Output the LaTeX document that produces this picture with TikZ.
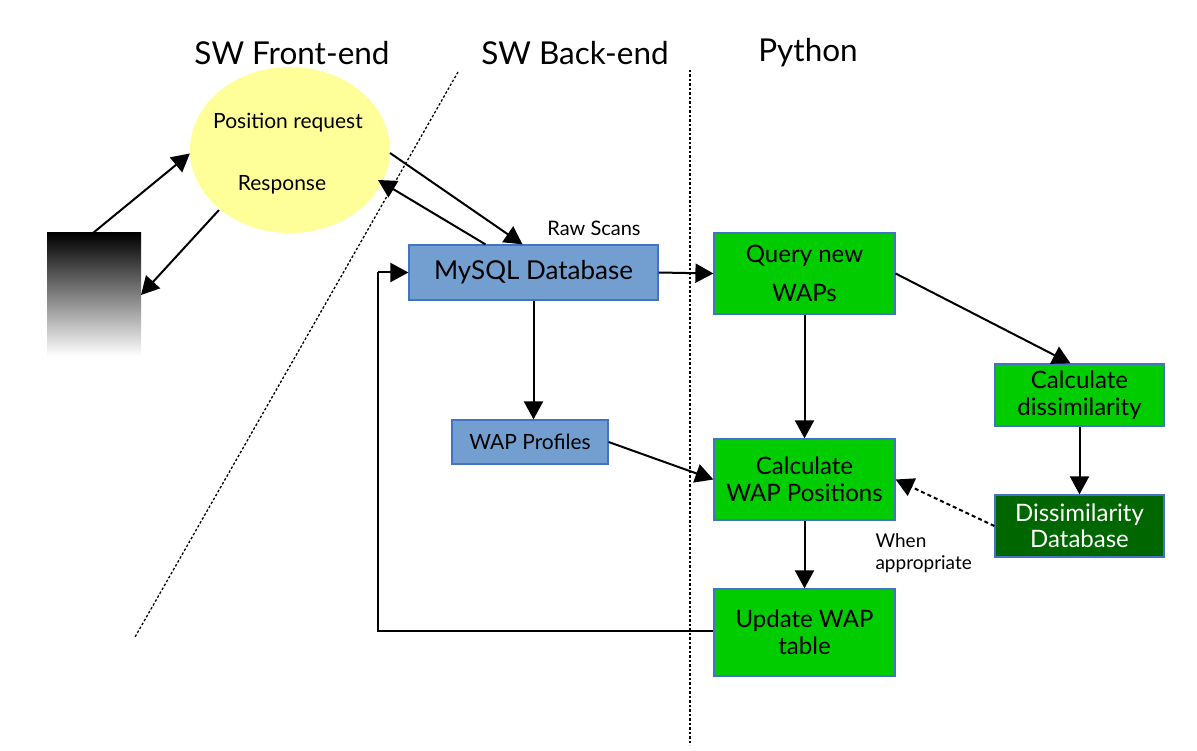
\documentclass[tikz,border=0pt]{standalone}
\usepackage{fontspec}
\setmainfont{Lato}
\usetikzlibrary{arrows.meta,shapes.geometric}
\definecolor{bluefill}{HTML}{729FCF}
\definecolor{boxedge}{HTML}{4472C4}
\definecolor{gfill}{HTML}{00CC00}
\definecolor{dgfill}{HTML}{006600}
\definecolor{ellfill}{HTML}{FFFF99}
\tikzset{
  title/.style={font=\fontsize{31.5}{36}\selectfont},
  bluebox/.style={draw=boxedge,fill=bluefill,line width=1.2pt,inner sep=0pt,align=center},
  greenbox/.style={draw=boxedge,fill=gfill,line width=1.2pt,inner sep=0pt,align=center,font=\fontsize{24}{26.5}\selectfont},
  darkbox/.style={draw=boxedge,fill=dgfill,line width=1.2pt,inner sep=0pt,align=center,text=white,font=\fontsize{24}{26.5}\selectfont},
  arr/.style={line width=2pt,-{Triangle[length=18pt,width=19pt]}},
  conn/.style={line width=2pt},
  sep/.style={line width=1.3pt,dash pattern=on 2.5pt off 2pt},
  lbl/.style={font=\fontsize{20}{22}\selectfont,align=left},
}
\begin{document}
\begin{tikzpicture}[x=1pt,y=-1pt]
\useasboundingbox (0,0) rectangle (1197,751);
% titles
\node[title] (tf) at (292,53) {SW Front-end};
\node[title] (tb) at (575,53) {SW Back-end};
\node[title] (tp) at (808,53) {Python};
% separators
\coordinate (d1) at (458,72);
\coordinate (d2) at (135,637);
\draw[sep] (d1) -- (d2);
\coordinate (v1) at (690,70);
\coordinate (v2) at (690,745);
\draw[sep] (v1) -- (v2);
% client
\shade[top color=black,bottom color=white] (47,233) rectangle (141,356);
\coordinate (cltop) at (93,233);
\coordinate (clright) at (141,295);
% ellipse
\node[ellipse,fill=ellfill,minimum width=200pt,minimum height=166pt,inner sep=0pt] (ell) at (290,150) {};
\node[font=\fontsize{21}{24}\selectfont] (preq) at (288,123) {Position request};
\node[font=\fontsize{21}{24}\selectfont] (resp) at (282,185) {Response};
% boxes
\node[bluebox,minimum width=249pt,minimum height=55pt,font=\fontsize{26}{30}\selectfont] (mysql) at (533.5,272.5) {MySQL Database};
\node[bluebox,minimum width=156pt,minimum height=44pt,font=\fontsize{21}{24}\selectfont] (prof) at (530,442) {WAP Profiles};
\node[greenbox,minimum width=181pt,minimum height=81pt] (query) at (804.5,273.5) {Query new\\[13pt]WAPs};
\node[greenbox,minimum width=181pt,minimum height=81pt] (calcpos) at (804.5,479.5) {Calculate\\WAP Positions};
\node[greenbox,minimum width=181pt,minimum height=87pt] (update) at (804.5,632.5) {Update WAP\\table};
\node[greenbox,minimum width=169pt,minimum height=62pt] (dissim) at (1079.5,395) {Calculate\\dissimilarity};
\node[darkbox,minimum width=169pt,minimum height=62pt] (ddb) at (1079.5,526) {Dissimilarity\\Database};
% labels
\node[lbl] (raw) at (594,228) {Raw Scans};
\node[lbl,font=\fontsize{19}{22}\selectfont,anchor=north west] (when) at (872,530) {When\\appropriate};
% connectors
\draw[arr] (cltop) -- (ell.182);
\draw[arr] ([shift={(-71,60)}]ell.center) -- (clright);
\draw[arr] ([shift={(100,3)}]ell.center) -- ([xshift=-11pt]mysql.north);
\draw[arr] ([xshift=-48pt]mysql.north) -- ([shift={(88,30)}]ell.center);
\draw[arr] (mysql.east) -- (query.west);
\draw[arr] (mysql.south) -- (prof.north -| mysql.south);
\draw[arr] (query.east) -- ([xshift=-9pt]dissim.north);
\draw[arr] (query.south) -- (calcpos.north);
\draw[arr] (prof.east) -- (calcpos.west);
\draw[arr] (dissim.south) -- (ddb.north);
\draw[arr,dash pattern=on 4pt off 3pt] (ddb.west) -- ([yshift=0pt]calcpos.east);
\draw[arr] (calcpos.south) -- (update.north);
\coordinate (loopa) at (378,631);
\draw[conn] (update.west |- loopa) -- (loopa) -- (loopa |- mysql.west);
\draw[arr] (loopa |- mysql.west) -- (mysql.west);
\end{tikzpicture}
\end{document}
